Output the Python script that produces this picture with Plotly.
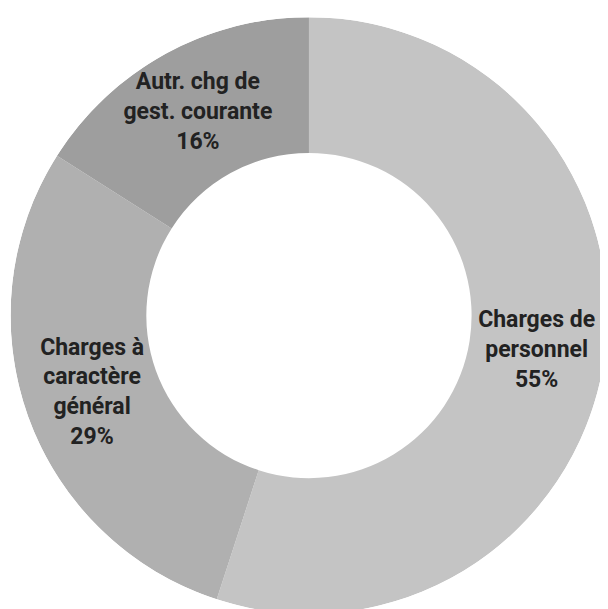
import numpy as np
import plotly.graph_objects as go

labels = ["Charges de<br>personnel", "Charges à<br>caractère<br>général", "Autr. chg de<br>gest. courante"]
values = [55, 29, 16]
colors = ["#c4c4c4", "#b0b0b0", "#9e9e9e"]
hole = 0.545

vals = np.array(values, dtype=float)
share = vals / vals.sum()
widths = share * 360.0
mids = np.cumsum(widths) - widths / 2.0
pct = [f"{round(s * 100):.0f}%" for s in share]
texts = [f"<b>{l}<br>{p}</b>" for l, p in zip(labels, pct)]

fig = go.Figure()
fig.add_trace(go.Barpolar(
    r=[1 - hole] * len(values),
    base=[hole] * len(values),
    theta=mids,
    width=widths,
    marker=dict(color=colors, line=dict(width=0)),
    hoverinfo="skip",
    showlegend=False,
))
fig.add_trace(go.Scatterpolar(
    r=[(1 + hole) / 2] * len(values),
    theta=mids,
    mode="text",
    text=texts,
    textposition="middle center",
    textfont=dict(family="Roboto, Liberation Sans, Arial", size=23, color="#222222"),
    hoverinfo="skip",
    showlegend=False,
))

fig.update_layout(
    width=608, height=609,
    margin=dict(l=0, r=0, t=0, b=0),
    paper_bgcolor="white",
    plot_bgcolor="white",
    polar=dict(
        domain=dict(x=[0.003, 0.987], y=[0.005, 0.985]),
        bgcolor="rgba(0,0,0,0)",
        bargap=0,
        radialaxis=dict(visible=False, range=[0, 1]),
        angularaxis=dict(visible=False, rotation=90, direction="clockwise"),
    ),
)

fig.write_html("out.html")
